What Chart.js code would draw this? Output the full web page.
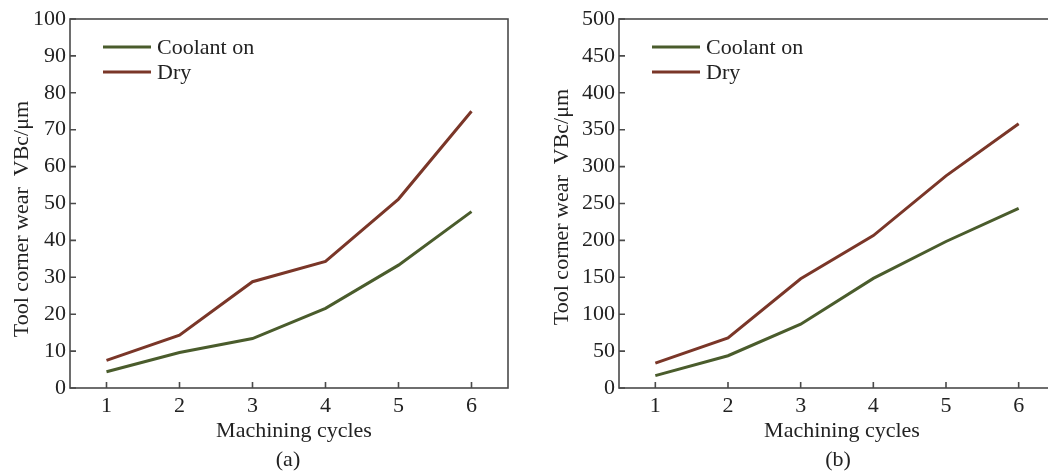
<!DOCTYPE html>
<html>
<head>
<meta charset="utf-8">
<script src="https://cdn.jsdelivr.net/npm/chart.js@4.4.1/dist/chart.umd.min.js"></script>
<style>
  html, body { margin: 0; padding: 0; background: #fff; overflow: hidden; width: 1048px; height: 472px; }
  .wrap { position: absolute; top: 0; height: 472px; }
  #wa { left: 0; width: 524px; }
  #wb { left: 540px; width: 530px; }
</style>
</head>
<body>
<div class="wrap" id="wa"><canvas id="ca"></canvas></div>
<div class="wrap" id="wb"><canvas id="cb"></canvas></div>
<script>
const cycles = [1, 2, 3, 4, 5, 6];
const seriesNames = ['Coolant on', 'Dry'];

// (a)
const coolantA = [4.4, 9.6, 13.4, 21.6, 33.3, 47.8];
const dryA = [7.5, 14.3, 28.8, 34.3, 51.2, 75.0];
// (b)
const coolantB = [16.7, 43.7, 86.5, 148.5, 198.5, 243.5];
const dryB = [33.8, 68.0, 148.0, 206.5, 287.5, 358.0];

const GREEN = '#4a5c2c';
const BROWN = '#7a3628';
const AXIS = '#4a4a4a';
const FONT = '"Liberation Serif", "Times New Roman", serif';

Chart.defaults.font.family = FONT;
Chart.defaults.color = '#222';

const frame = {
  id: 'frame',
  afterDraw(chart, args, o) {
    const {ctx, chartArea: a, scales: {x, y}} = chart;
    ctx.save();
    ctx.strokeStyle = AXIS;
    ctx.lineWidth = 1.6;
    ctx.strokeRect(a.left, a.top, a.right - a.left, a.bottom - a.top);
    // inward tick marks
    ctx.beginPath();
    x.ticks.forEach(t => {
      const px = x.getPixelForValue(t.value);
      ctx.moveTo(px, a.bottom); ctx.lineTo(px, a.bottom - 6);
    });
    y.ticks.forEach(t => {
      const py = y.getPixelForValue(t.value);
      ctx.moveTo(a.left, py); ctx.lineTo(a.left + 6, py);
    });
    ctx.stroke();

    // legend
    ctx.font = '22px ' + FONT;
    ctx.textBaseline = 'middle';
    chart.data.datasets.forEach((ds, i) => {
      const ly = 47 + i * 25;
      ctx.strokeStyle = ds.borderColor;
      ctx.lineWidth = 3;
      ctx.beginPath();
      ctx.moveTo(a.left + 33, ly); ctx.lineTo(a.left + 81, ly);
      ctx.stroke();
      ctx.fillStyle = '#222';
      ctx.textAlign = 'left';
      ctx.fillText(ds.label, a.left + 87, ly + 1);
    });

    // axis titles and caption
    ctx.fillStyle = '#222';
    ctx.textAlign = 'center';
    ctx.fillText('Machining cycles', o.xTitleX, 431);
    ctx.fillText(o.caption, o.capX, 460);
    ctx.save();
    ctx.translate(o.yTitleX, o.yTitleY);
    ctx.rotate(-Math.PI / 2);
    ctx.fillText('Tool corner wear  VBc/\u03bcm', 0, 0);
    ctx.restore();
    ctx.restore();
  }
};

function makeChart(id, coolant, dry, yMax, yStep, yWidth, padRight, extra) {
  const ctx = document.getElementById(id).getContext('2d');
  return new Chart(ctx, {
    type: 'line',
    data: {
      datasets: [{
        label: seriesNames[0],
        data: cycles.map((c, i) => ({x: c, y: coolant[i]})),
        borderColor: GREEN,
        borderWidth: 3,
        pointRadius: 0,
        tension: 0
      }, {
        label: seriesNames[1],
        data: cycles.map((c, i) => ({x: c, y: dry[i]})),
        borderColor: BROWN,
        borderWidth: 3,
        pointRadius: 0,
        tension: 0
      }]
    },
    options: {
      animation: false,
      responsive: true,
      maintainAspectRatio: false,
      layout: { padding: { top: 19, right: padRight, bottom: 0, left: 0 } },
      plugins: { legend: { display: false }, tooltip: { enabled: false }, frame: extra },
      scales: {
        x: {
          type: 'linear',
          min: 0.5, max: 6.5,
          afterFit: s => { s.height = 84; },
          afterBuildTicks: s => { s.ticks = cycles.map(v => ({value: v})); },
          grid: { display: false, drawTicks: false },
          border: { display: false },
          ticks: { font: { size: 22 }, color: '#222', padding: 5 }
        },
        y: {
          min: 0, max: yMax,
          afterFit: s => { s.width = yWidth; },
          grid: { display: false, drawTicks: false },
          border: { display: false },
          ticks: { stepSize: yStep, font: { size: 22 }, color: '#222', padding: 4 }
        }
      }
    },
    plugins: [frame]
  });
}

makeChart('ca', coolantA, dryA, 100, 10, 70, 16,
  { caption: '(a)', capX: 288, xTitleX: 294, yTitleX: 22, yTitleY: 219 });
makeChart('cb', coolantB, dryB, 500, 50, 79, 15,
  { caption: '(b)', capX: 298, xTitleX: 302, yTitleX: 22, yTitleY: 207 });
</script>
</body>
</html>
